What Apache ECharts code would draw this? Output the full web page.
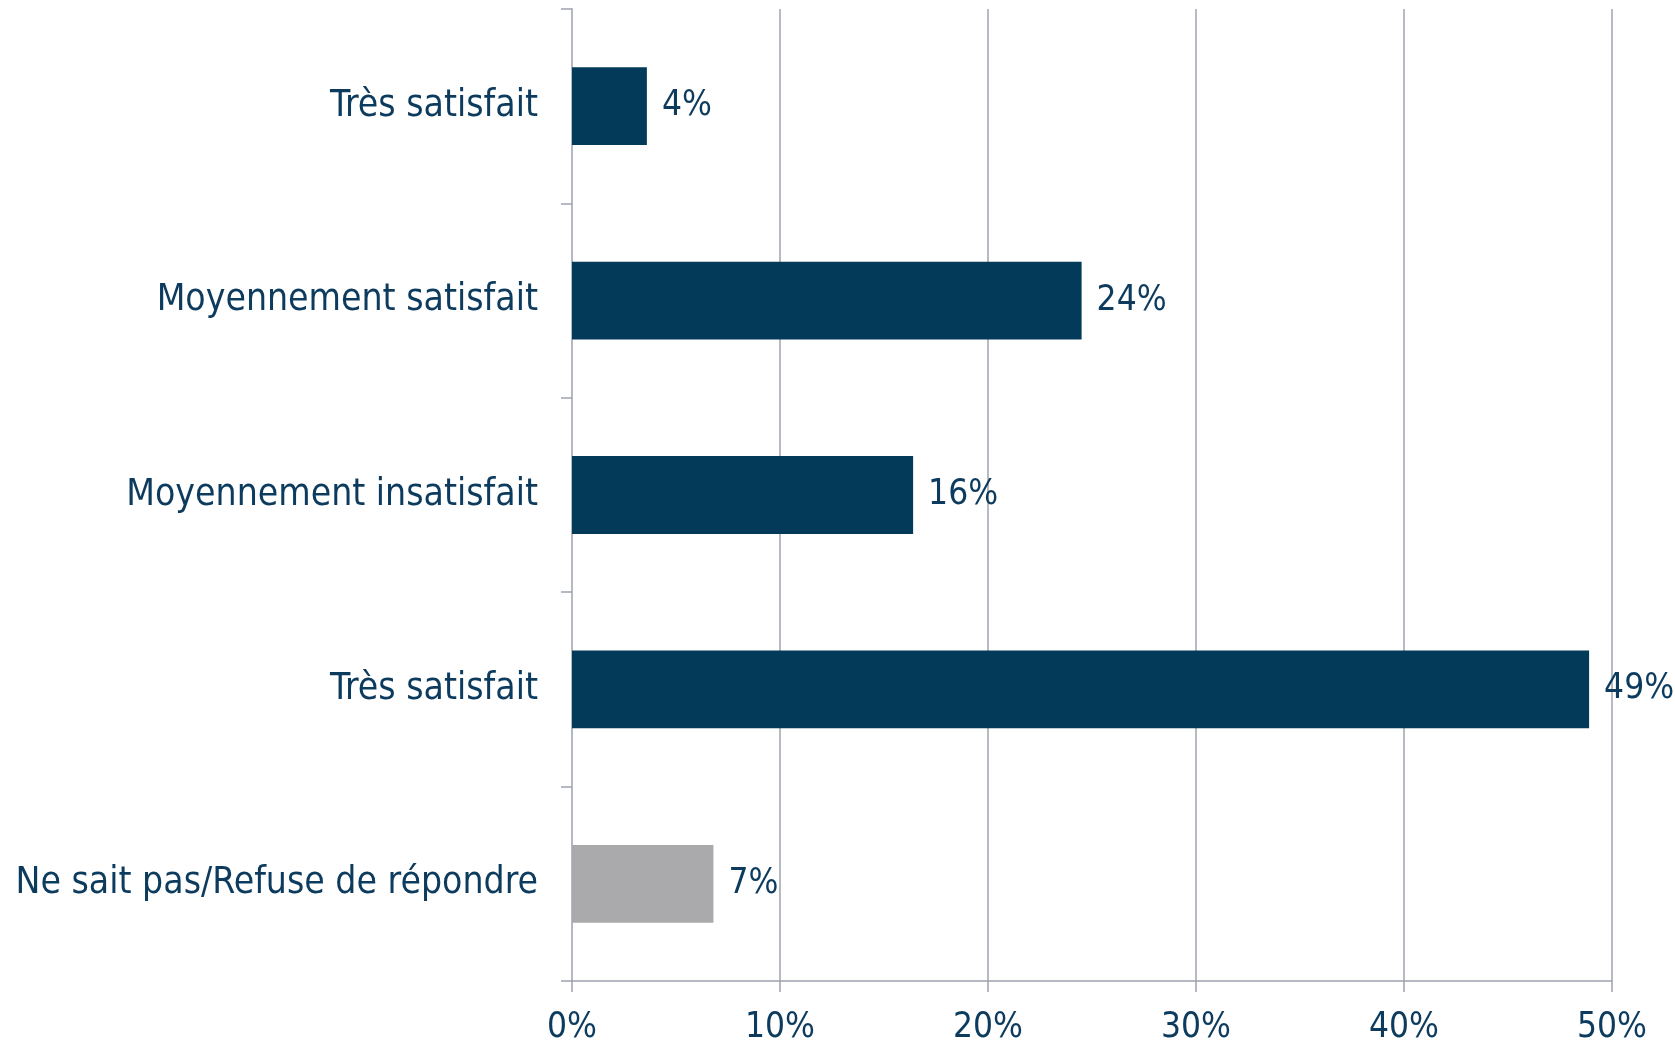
<!DOCTYPE html>
<html><head><meta charset="utf-8">
<script src="https://cdn.jsdelivr.net/npm/echarts@6/dist/echarts.min.js"></script>
<style>html,body{margin:0;padding:0;background:#fff}#c{width:1675px;height:1045px}</style>
</head><body><div id="c"></div>
<script>
const categories = ['Très satisfait','Moyennement satisfait','Moyennement insatisfait','Très satisfait','Ne sait pas/Refuse de répondre'];
const values = [3.6, 24.5, 16.4, 48.9, 6.8];
const valueLabels = ['4%','24%','16%','49%','7%'];
const barColors = ['#033a5a','#033a5a','#033a5a','#033a5a','#aaaaac'];
const xTicks = [0,10,20,30,40,50];

const FONT = '"DejaVu Sans Condensed", "DejaVu Sans", sans-serif';
const TXT = '#0d3b5e';
const chart = echarts.init(document.getElementById('c'));
chart.setOption({
  animation:false,
  grid:{left:572,right:63,top:9,bottom:64,containLabel:false},
  xAxis:{type:'value',min:xTicks[0],max:xTicks[xTicks.length-1],interval:10,
    axisLine:{show:true,lineStyle:{color:'#9ea3ad',width:1.5}},
    axisTick:{show:true,length:11,lineStyle:{color:'#9ea3ad',width:1.5}},
    splitLine:{show:true,lineStyle:{color:'#9ea3ad',width:1.5}},
    axisLabel:{formatter:v=>v+'%',color:TXT,fontFamily:FONT,fontSize:35,margin:29}},
  yAxis:{type:'category',data:categories,inverse:true,
    axisLine:{show:true,lineStyle:{color:'#b4b8c0',width:2}},
    axisTick:{show:true,length:11,lineStyle:{color:'#9ea3ad',width:1.5}},
    axisLabel:{color:TXT,fontFamily:FONT,fontSize:37,margin:34}},
  series:[{type:'bar',barWidth:'40%',
    data:values.map((v,i)=>({value:v,itemStyle:{color:barColors[i]}})),
    label:{show:true,position:'right',distance:15,color:TXT,fontFamily:FONT,fontSize:35,
      formatter:p=>valueLabels[p.dataIndex]}}]
});
</script></body></html>
